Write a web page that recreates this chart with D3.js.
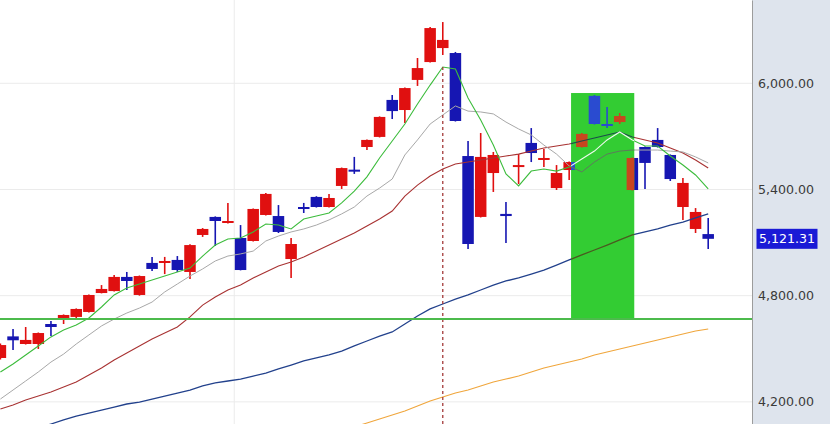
<!DOCTYPE html>
<html>
<head>
<meta charset="utf-8">
<script src="https://cdn.jsdelivr.net/npm/d3@7/dist/d3.min.js"></script>
<style>
  html, body { margin: 0; padding: 0; background: #fff; }
  svg { display: block; font-family: "DejaVu Sans", Verdana, sans-serif; }
</style>
</head>
<body>
<div id="chart"></div>
<script>
'use strict'

// daily candles, oldest first
var opens  = [4448, 4570, 4527, 4527, 4640, 4674, 4680, 4708, 4815, 4826, 4906, 4804, 4985, 4985, 5002, 4934, 5143, 5245, 5211, 5126,
              5109, 5256, 5250, 5007, 5301, 5358, 5301, 5420, 5512, 5640, 5697, 5906, 5849, 6019, 6120, 6199, 6171, 5589, 5245, 5493,
              5262, 5527, 5663, 5567, 5408, 5510, 5714, 5770, 5764, 5815, 5578, 5640, 5680, 5595, 5301, 5177, 5148]
var highs  = [4530, 4612, 4623, 4592, 4657, 4694, 4728, 4806, 4860, 4917, 4934, 4914, 5019, 5019, 5024, 5090, 5182, 5248, 5324, 5199,
              5293, 5380, 5312, 5126, 5324, 5362, 5375, 5524, 5584, 5683, 5813, 5934, 5976, 6143, 6318, 6346, 6177, 5674, 5719, 5612,
              5329, 5600, 5747, 5629, 5538, 5558, 5719, 5934, 5866, 5832, 5581, 5643, 5747, 5598, 5465, 5295, 5239]
var lows   = [4440, 4493, 4524, 4499, 4572, 4640, 4674, 4705, 4813, 4823, 4832, 4800, 4939, 4922, 4934, 4894, 5132, 5081, 5208, 4943,
              5106, 5253, 5154, 4900, 5267, 5298, 5298, 5403, 5488, 5623, 5694, 5798, 5776, 5985, 6117, 6160, 5784, 5064, 5242, 5386,
              5098, 5431, 5555, 5527, 5397, 5454, 5637, 5767, 5747, 5770, 5394, 5403, 5637, 5448, 5228, 5154, 5064]
var closes = [4521, 4548, 4550, 4589, 4623, 4691, 4725, 4804, 4838, 4906, 4883, 4911, 4951, 4996, 4945, 5086, 5177, 5222, 5222, 4945,
              5290, 5375, 5160, 5092, 5290, 5301, 5352, 5521, 5505, 5680, 5810, 5843, 5973, 6086, 6312, 6245, 5787, 5092, 5584, 5595,
              5250, 5538, 5606, 5578, 5493, 5555, 5640, 5929, 5770, 5781, 5397, 5550, 5640, 5459, 5437, 5273, 5121.31]

// moving averages (first value sits on candle `start`)
var ma5   = [4369, 4414, 4465, 4516, 4567, 4606, 4634, 4674, 4736, 4804, 4843, 4866, 4889, 4911, 4934, 4956, 5024, 5086, 5120, 5126,
             5160, 5205, 5199, 5177, 5233, 5250, 5267, 5324, 5391, 5471, 5578, 5674, 5770, 5883, 5990, 6092, 6081, 5917, 5793, 5651,
             5488, 5420, 5504, 5516, 5504, 5527, 5572, 5617, 5680, 5725, 5680, 5646, 5646, 5589, 5538, 5482, 5403]
var ma10  = [4216, 4267, 4318, 4369, 4425, 4470, 4527, 4578, 4629, 4668, 4702, 4730, 4764, 4821, 4866, 4911, 4951, 4996, 5024, 5036,
             5052, 5109, 5137, 5160, 5177, 5199, 5228, 5262, 5301, 5363, 5408, 5459, 5595, 5680, 5770, 5821, 5872, 5843, 5838, 5827,
             5781, 5742, 5708, 5651, 5600, 5533, 5499, 5555, 5600, 5617, 5623, 5623, 5623, 5617, 5612, 5584, 5550]
var ma20  = [4160, 4182, 4211, 4233, 4256, 4284, 4312, 4352, 4391, 4437, 4476, 4516, 4555, 4589, 4623, 4680, 4747, 4793, 4832, 4860,
             4900, 4934, 4968, 4990, 5019, 5052, 5086, 5120, 5154, 5194, 5233, 5278, 5363, 5425, 5476, 5516, 5544, 5555, 5567, 5578,
             5589, 5600, 5617, 5634, 5646, 5657, 5674, 5691, 5708, 5725, 5697, 5680, 5663, 5634, 5606, 5567, 5521]
var ma60  = [4052, 4075, 4098, 4120, 4137, 4154, 4171, 4188, 4199, 4216, 4233, 4250, 4267, 4290, 4307, 4318, 4329, 4346, 4363, 4386,
             4408, 4431, 4448, 4465, 4487, 4516, 4544, 4572, 4595, 4640, 4685, 4725, 4753, 4781, 4804, 4832, 4860, 4883, 4900, 4922,
             4945, 4973, 5002, 5030, 5058, 5086, 5115, 5143, 5160, 5177, 5199, 5216, 5239, 5262]
var ma120 = [4058, 4081, 4103, 4126, 4148, 4177, 4205, 4228, 4250, 4267, 4290, 4312, 4329, 4346, 4369, 4391, 4408, 4425, 4442, 4465,
             4482, 4499, 4516, 4533, 4550, 4567, 4584, 4600, 4612]

var priceTicks   = [4200, 4800, 5400, 6000]
var monthBreaks  = [18.5]
var peakIndex    = 35
var supportLevel = 4668
var boxFrom = 45.15, boxTo = 50.15, boxTop = 5945

var width = 830, height = 424, plotW = 752
var bodyW = 11.5

var palette = {
  up: '#e01010', down: '#1616b2',
  ma5: '#3cbc3c', ma10: '#a8a8a8', ma20: '#a83232', ma60: '#22418c', ma120: '#f0a63c'
}
// colours inside the highlighted (inverted) box
var inverse = {
  up: '#2a4bd0', down: '#c9461f',
  ma5: '#effaef', ma10: '#5d7b5d', ma20: '#1c4b4b', ma60: '#4a5a20', ma120: '#f0a63c'
}

var candles = opens.map(function (o, i) {
  return { i: i, o: o, h: highs[i], l: lows[i], c: closes[i] }
})

var mas = [
  { key: 'ma120', start: 28, values: ma120, w: 1.1 },
  { key: 'ma60',  start: 3,  values: ma60,  w: 1.3 },
  { key: 'ma20',  start: 0,  values: ma20,  w: 1.1 },
  { key: 'ma10',  start: 0,  values: ma10,  w: 1 },
  { key: 'ma5',   start: 0,  values: ma5,   w: 1.1 }
]

var svg = d3.select('#chart').append('svg')
  .attr('width', width)
  .attr('height', height)

var x = d3.scaleLinear().domain([0, 56]).range([0.4, 708.2])
var y = d3.scaleLinear().domain([4075, 6470.6]).range([height, 0])

var defs = svg.append('defs')
defs.append('clipPath').attr('id', 'plot')
  .append('rect').attr('width', plotW).attr('height', height)
defs.append('clipPath').attr('id', 'box')
  .append('rect')
  .attr('x', x(boxFrom)).attr('y', y(boxTop))
  .attr('width', x(boxTo) - x(boxFrom))
  .attr('height', y(supportLevel) - y(boxTop))

var plot = svg.append('g').attr('clip-path', 'url(#plot)')

plot.selectAll('.hgrid')
  .data(priceTicks)
  .enter().append('line')
  .attr('x1', 0).attr('x2', plotW)
  .attr('y1', function (d) { return y(d) }).attr('y2', function (d) { return y(d) })
  .attr('stroke', '#ebebeb')

plot.selectAll('.vgrid')
  .data(monthBreaks)
  .enter().append('line')
  .attr('x1', function (d) { return x(d) }).attr('x2', function (d) { return x(d) })
  .attr('y1', 0).attr('y2', height)
  .attr('stroke', '#ebebeb')

function drawLayer (g, pal) {
  var c = g.selectAll('.candle')
    .data(candles)
    .enter().append('g')
    .attr('class', 'candle')

  c.append('line')
    .attr('x1', function (d) { return x(d.i) })
    .attr('x2', function (d) { return x(d.i) })
    .attr('y1', function (d) { return y(d.h) })
    .attr('y2', function (d) { return y(d.l) })
    .attr('stroke', function (d) { return d.c >= d.o ? pal.up : pal.down })
    .attr('stroke-width', 1.6)

  c.append('rect')
    .attr('x', function (d) { return x(d.i) - bodyW / 2 })
    .attr('y', function (d) { return y(Math.max(d.o, d.c)) })
    .attr('width', bodyW)
    .attr('height', function (d) { return Math.max(2, Math.abs(y(d.o) - y(d.c))) })
    .attr('fill', function (d) { return d.c >= d.o ? pal.up : pal.down })

  mas.forEach(function (m) {
    var line = d3.line()
      .x(function (d, i) { return x(i + m.start) })
      .y(function (d) { return y(d) })
    g.append('path')
      .datum(m.values)
      .attr('d', line)
      .attr('fill', 'none')
      .attr('stroke', pal[m.key])
      .attr('stroke-width', m.w)
  })
}

drawLayer(plot.append('g'), palette)

// dashed marker from the 5-day peak
plot.append('line')
  .attr('x1', x(peakIndex)).attr('x2', x(peakIndex))
  .attr('y1', y(ma5[peakIndex])).attr('y2', height)
  .attr('stroke', '#a33a3a')
  .attr('stroke-width', 1.3)
  .attr('stroke-dasharray', '3,3')

// highlighted box
plot.append('rect')
  .attr('x', x(boxFrom)).attr('y', y(boxTop))
  .attr('width', x(boxTo) - x(boxFrom))
  .attr('height', y(supportLevel) - y(boxTop))
  .attr('fill', '#33cc33')

drawLayer(plot.append('g').attr('clip-path', 'url(#box)'), inverse)

// support line
plot.append('line')
  .attr('x1', 0).attr('x2', plotW)
  .attr('y1', y(supportLevel)).attr('y2', y(supportLevel))
  .attr('stroke', '#4cbb4c')
  .attr('stroke-width', 2)

// price axis
svg.append('rect')
  .attr('x', plotW).attr('y', 0)
  .attr('width', width - plotW).attr('height', height)
  .attr('fill', '#dee4ed')

var axis = svg.append('g')
  .attr('transform', 'translate(' + plotW + ',0)')
  .call(d3.axisRight(y)
    .tickValues(priceTicks)
    .tickSize(0)
    .tickSizeOuter(0)
    .tickPadding(6)
    .tickFormat(d3.format(',.2f')))

axis.attr('font-family', null).attr('font-size', null)
axis.select('.domain').attr('stroke', '#9c9c9c')
axis.selectAll('text').attr('font-size', '12.6px').attr('fill', '#3a3a3a')

var last = closes[closes.length - 1]
svg.append('rect')
  .attr('x', 756.5).attr('y', y(last) - 10)
  .attr('width', 61).attr('height', 20)
  .attr('fill', '#1a1ad6')
svg.append('text')
  .attr('x', 759).attr('y', y(last))
  .attr('dy', '0.34em')
  .attr('font-size', '12.6px')
  .attr('fill', '#fff')
  .text(d3.format(',.2f')(last))
</script>
</body>
</html>
